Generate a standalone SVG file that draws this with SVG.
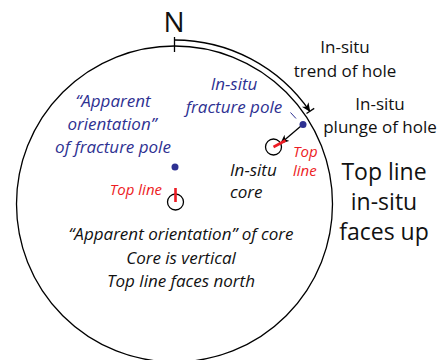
<svg xmlns="http://www.w3.org/2000/svg" width="444" height="360" viewBox="0 0 444 360">
<style>
text{font-family:"Open Sans","Liberation Sans",sans-serif;}
.blk{fill:#111;}
.blu{fill:#2e3192;font-style:italic;}
.red{fill:#ed1c24;font-style:italic;}
.it{font-style:italic;}
.ln{fill:none;stroke:#000;stroke-width:1.3;}
</style>
<defs>
<marker id="ah" markerWidth="10" markerHeight="10" refX="8" refY="4" orient="auto" markerUnits="userSpaceOnUse">
<path d="M0,0 L9,4 L0,8 L2.5,4 Z" fill="#000"/>
</marker>
</defs>
<rect width="444" height="360" fill="#fff"/>
<g id="net">
<circle cx="174.5" cy="204" r="158" class="ln"/>
<text x="174" y="32" font-size="28" text-anchor="middle" class="blk">N</text>
<line x1="174.5" y1="37" x2="174.5" y2="52" class="ln"/>
</g>
<g id="connectors">
<path d="M174.5,40 A164,164 0 0 1 309.7,111.2" class="ln" marker-end="url(#ah)"/>
<line x1="306.5" y1="113.5" x2="314.2" y2="108.4" class="ln"/>
<line x1="301" y1="126" x2="281" y2="143" stroke="#000" stroke-width="1.3" marker-end="url(#ah)"/>
<line x1="290.5" y1="112.5" x2="296" y2="118.5" stroke="#2e3192" stroke-width="1"/>
</g>
<g id="insitu-pole">
<circle cx="303" cy="124.5" r="3.5" fill="#2e3192"/>
<text x="234" y="90" font-size="17" text-anchor="middle" class="blu">In-situ</text>
<text x="234" y="113" font-size="17" text-anchor="middle" class="blu">fracture pole</text>
</g>
<g id="insitu-core">
<circle cx="273.5" cy="147" r="8" class="ln"/>
<line x1="273.5" y1="147" x2="285.5" y2="140.5" stroke="#ed1c24" stroke-width="2.6"/>
<text x="230" y="176" font-size="17" class="blk it">In-situ</text>
<text x="230" y="198" font-size="17" class="blk it">core</text>
<text x="293" y="157" font-size="15" class="red">Top</text>
<text x="293" y="176" font-size="15" class="red">line</text>
</g>
<g id="apparent-pole">
<circle cx="175" cy="167" r="3.5" fill="#2e3192"/>
<text x="113" y="107" font-size="17" text-anchor="middle" class="blu">“Apparent</text>
<text x="112" y="130" font-size="17" text-anchor="middle" class="blu">orientation”</text>
<text x="113" y="153" font-size="17" text-anchor="middle" class="blu">of fracture pole</text>
</g>
<g id="apparent-core">
<circle cx="175.5" cy="202" r="8" class="ln"/>
<line x1="175.5" y1="188" x2="175.5" y2="202" stroke="#ed1c24" stroke-width="2.6"/>
<text x="162" y="195" font-size="15" text-anchor="end" class="red">Top line</text>
<text x="181" y="240" font-size="17" text-anchor="middle" class="blk it">“Apparent orientation” of core</text>
<text x="181" y="264" font-size="17" text-anchor="middle" class="blk it">Core is vertical</text>
<text x="181" y="287" font-size="17" text-anchor="middle" class="blk it">Top line faces north</text>
</g>
<g id="trend-label">
<text x="345" y="53" font-size="17" text-anchor="middle" class="blk">In-situ</text>
<text x="345" y="77" font-size="17" text-anchor="middle" class="blk">trend of hole</text>
</g>
<g id="plunge-label">
<text x="380" y="110" font-size="17" text-anchor="middle" class="blk">In-situ</text>
<text x="380" y="133" font-size="17" text-anchor="middle" class="blk">plunge of hole</text>
</g>
<g id="topline-label">
<text x="384" y="180" font-size="23" text-anchor="middle" class="blk">Top line</text>
<text x="384" y="210" font-size="23" text-anchor="middle" class="blk">in-situ</text>
<text x="384" y="240" font-size="23" text-anchor="middle" class="blk">faces up</text>
</g>
</svg>
